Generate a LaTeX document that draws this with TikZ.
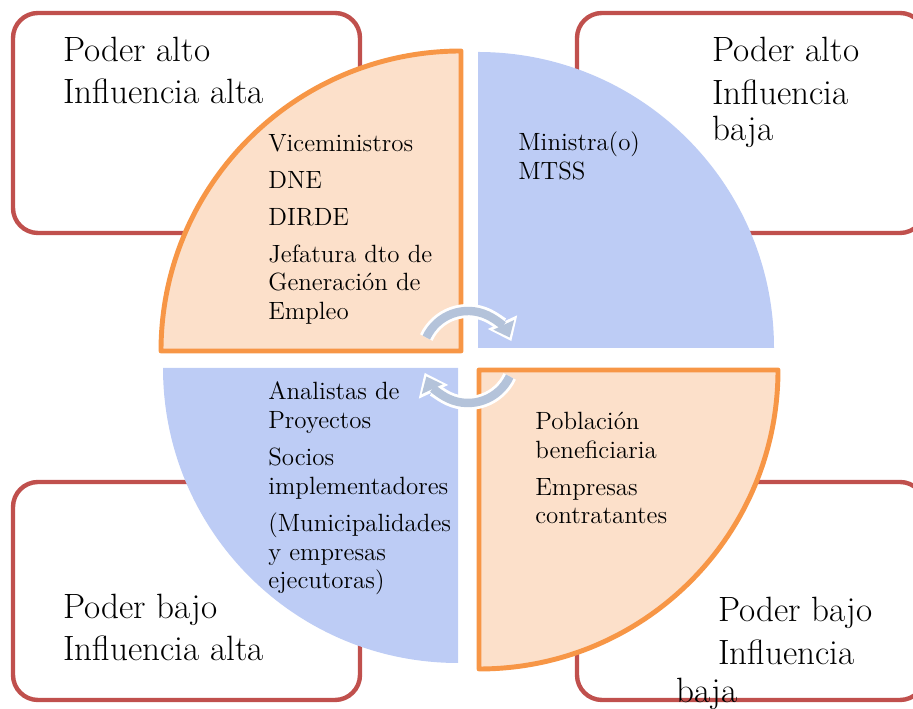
\documentclass[tikz,border=0pt]{standalone}
\usepackage{tikz}
\usetikzlibrary{arrows.meta}
\definecolor{boxred}{HTML}{C0504D}
\definecolor{orng}{HTML}{F79646}
\definecolor{peach}{HTML}{FCE0CA}
\definecolor{lblue}{HTML}{BDCCF5}
\definecolor{cycgray}{HTML}{B4C3DA}
\tikzset{
  quad/.style={draw=boxred, fill=white, line width=2.5pt, rounded corners=0.5cm},
  hot/.style={draw=orng, fill=peach, line width=2.8pt, line join=round},
  cold/.style={fill=lblue},
  cycw/.style={draw=white, line width=8pt, shorten >=-0.08cm, -{Triangle[width=0.62cm,length=0.42cm]}},
  cycg/.style={draw=cycgray, line width=4.8pt, -{Triangle[width=0.44cm,length=0.28cm]}},
  lab/.style={anchor=base west, align=left, inner sep=0pt, font=\fontsize{20}{24.4}\selectfont},
  who/.style={anchor=base west, align=left, inner sep=0pt, font=\fontsize{14.2}{16.5}\selectfont},
}

\begin{document}
\begin{tikzpicture}[x=0.02cm, y=0.02cm]
  \useasboundingbox (0,0) rectangle (913,709);
  \clip (0,0) rectangle (913,709);
  % corner boxes
  \draw[quad] (13,476) rectangle (360,696);
  \draw[quad] (577,476) rectangle (925,696);
  \draw[quad] (13,9) rectangle (360,227);
  \draw[quad] (577,9) rectangle (925,227);
  % four quarters
  \draw[hot] (461,358) -- ++(-300,0) arc[start angle=180, end angle=90, radius=300] -- cycle;
  \fill[cold] (478,361) -- ++(296,0) arc[start angle=0, end angle=90, radius=296] -- cycle;
  \fill[cold] (458,341) -- ++(-295,0) arc[start angle=180, end angle=270, radius=295] -- cycle;
  \draw[hot] (479,339) -- ++(299,0) arc[start angle=0, end angle=-90, radius=299] -- cycle;
  % cycle arrows
  \coordinate (mid) at (468,352);
  \draw[cycw] (mid) ++(155:46) arc[start angle=155, end angle=25, radius=46];
  \draw[cycg] (mid) ++(155:46) arc[start angle=155, end angle=25, radius=46];
  \draw[cycw] (mid) ++(-25:46) arc[start angle=-25, end angle=-155, radius=46];
  \draw[cycg] (mid) ++(-25:46) arc[start angle=-25, end angle=-155, radius=46];
  % labels (placed at the baseline of their last line)
  \node[lab] (hh) at (63,605) {Poder alto\\Influencia alta};
  \node[lab] (hl) at (712,568) {Poder alto\\Influencia\\[-3.4pt]baja};
  \node[lab] (lh) at (63,48) {Poder bajo\\Influencia alta};
  \node[lab] (ll) at (718,6) {Poder bajo\\Influencia\\[-2.3pt]\hspace*{-0.84cm}baja};
  \node[who] (vice) at (268,389) {Viceministros\\[4.5pt]DNE\\[4.5pt]DIRDE\\[4.5pt]Jefatura dto de\\Generación de\\Empleo};
  \node[who] (mini) at (518,529) {Ministra(o)\\MTSS};
  \node[who] (anal) at (268,120) {Analistas de\\Proyectos\\[4.5pt]Socios\\implementadores\\[4.5pt](Municipalidades\\y empresas\\ejecutoras)};
  \node[who] (pobl) at (535,185) {Población\\beneficiaria\\[4.5pt]Empresas\\contratantes};
\end{tikzpicture}
\end{document}
